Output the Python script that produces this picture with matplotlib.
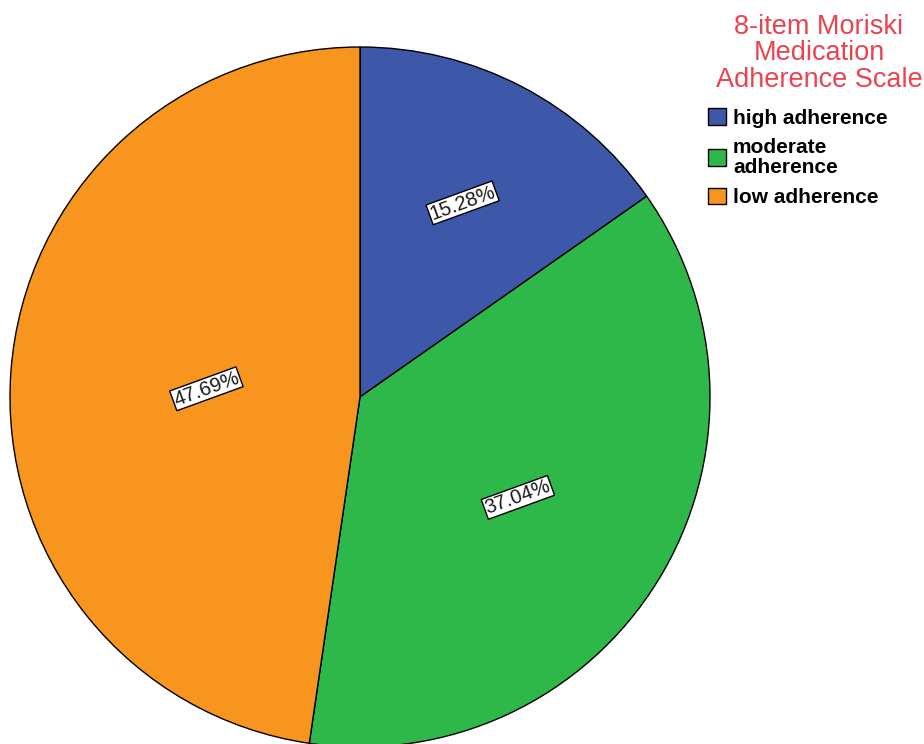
import numpy as np
import matplotlib.pyplot as plt

plt.rcParams['font.family'] = ['Liberation Sans', 'DejaVu Sans']

# Data
labels = ['high adherence', 'moderate\nadherence', 'low adherence']
values = [15.28, 37.04, 47.69]
colors = ['#3d58a9', '#2fb84a', '#f7951e']
title = '8-item Moriski\nMedication\nAdherence Scale'
label_dist = [0.635, 0.53, 0.44]

fig = plt.figure(figsize=(9.24, 7.44), dpi=100)
ax = fig.add_axes([0, 0, 1, 1])

cx, cy, R = 360, 347, 350
wedges, _ = ax.pie(values, colors=colors, startangle=90, counterclock=False,
                   center=(cx, cy), radius=R, frame=True,
                   wedgeprops=dict(edgecolor='black', linewidth=1))
ax.set_xlim(0, 924)
ax.set_ylim(0, 744)
ax.set_aspect('equal')
ax.axis('off')

for w, v, d in zip(wedges, values, label_dist):
    mid = np.deg2rad((w.theta1 + w.theta2) / 2)
    x = cx + d * R * np.cos(mid)
    y = cy + d * R * np.sin(mid) - 3
    ax.text(x, y, f'{v:.2f}%', ha='center', va='center', rotation=20,
            fontsize=14.5, color='#1a1a1a', rotation_mode='anchor',
            bbox=dict(boxstyle='square,pad=0.05', facecolor='white',
                      edgecolor='black', linewidth=1))

fig.text(819 / 924, 1 - 14 / 744, title, ha='center', va='top', color='#ea4350',
         fontsize=19.5, linespacing=1.02)

leg = ax.legend(wedges, labels, loc='upper left',
                bbox_to_anchor=(708 / 924, 1 - 108 / 744),
                bbox_transform=fig.transFigure, frameon=False,
                prop=dict(size=15, weight='bold'),
                handlelength=0.87, handleheight=0.87, handletextpad=0.33,
                labelspacing=0.52, borderaxespad=0, borderpad=0)
for t in leg.get_texts():
    t.set_linespacing(1.02)

fig.savefig('out.png', dpi=100)
